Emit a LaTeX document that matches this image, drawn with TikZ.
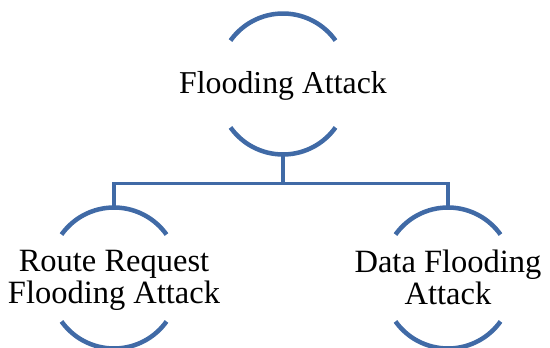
\documentclass[tikz,border=0pt]{standalone}
\usepackage{fontspec}
\setmainfont{Liberation Serif}
\usepackage{tikz}
\usetikzlibrary{calc}

\definecolor{arcblue}{RGB}{64,106,166}

% two circle arcs above and below a label, plus its top/bottom points
\newcommand{\labelarcs}[1]{%
\draw[arcline] ($(#1.center)+(0,6)$) ++(144.5:64.5) arc[start angle=144.5, end angle=35.5, radius=64.5];
\draw[arcline] ($(#1.center)+(0,-6)$) ++(215.5:64.5) arc[start angle=215.5, end angle=324.5, radius=64.5];
\coordinate (#1-top) at ($(#1.center)+(0,70.5)$);
\coordinate (#1-bot) at ($(#1.center)+(0,-70.5)$);
}

\begin{document}
\begin{tikzpicture}[x=1pt, y=1pt,
  lbl/.style={align=center, font=\fontsize{32.5}{32}\selectfont, text depth=0.22em, inner sep=0pt},
  arcline/.style={arcblue, line width=4.5pt},
  treeline/.style={arcblue, line width=3.5pt}]
\useasboundingbox (0,0) rectangle (550,348);

\node[lbl, font=\fontsize{31.8}{32}\selectfont] (flood) at (283,264) {Flooding Attack};
\node[lbl] (rreq) at (114,70) {Route Request\\Flooding Attack};
\node[lbl] (data) at (448,70) {Data Flooding\\Attack};

\labelarcs{flood}
\labelarcs{rreq}
\labelarcs{data}

\draw[treeline] (flood-bot) -- ++(0,-29) coordinate (fork);
\draw[treeline] (fork) -| (rreq-top);
\draw[treeline] (fork) -| (data-top);
\end{tikzpicture}
\end{document}
